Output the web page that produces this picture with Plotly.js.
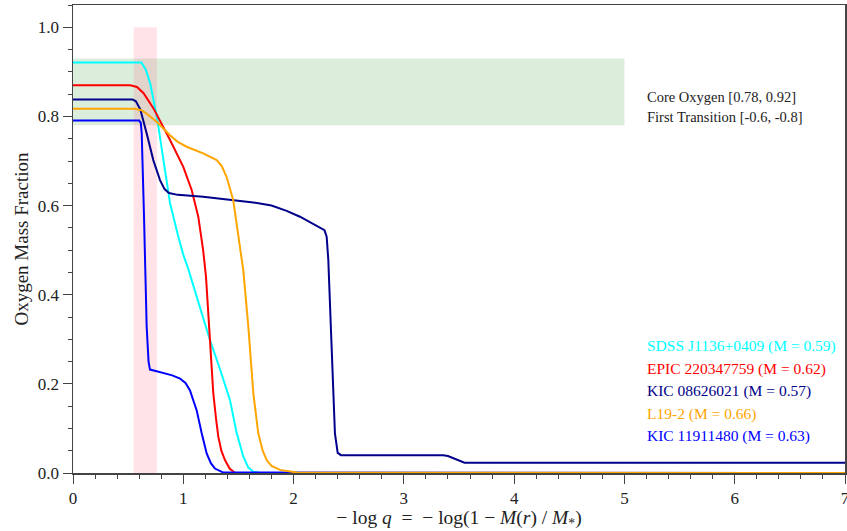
<!DOCTYPE html>
<html>
<head>
<meta charset="utf-8">
<script src="https://cdn.plot.ly/plotly-3.0.1.min.js"></script>
<style>html,body{margin:0;padding:0;background:#fff;}#chart{width:847px;height:531px;}</style>
</head>
<body>
<div id="chart"></div>
<script>
// Series data (x = -log q, y = oxygen mass fraction)
const sdssX = [0, 0.62, 0.66, 0.70, 0.76, 0.82, 0.88, 0.955, 1.0, 1.045, 1.15, 1.242, 1.33, 1.423, 1.484, 1.544, 1.59, 1.635, 1.70, 7];
const sdssY = [0.921, 0.921, 0.905, 0.874, 0.80, 0.70, 0.605, 0.53, 0.49, 0.458, 0.375, 0.298, 0.235, 0.164, 0.09, 0.037, 0.012, 0.003, 0, 0];

const epicX = [0, 0.52, 0.58, 0.64, 0.73, 0.80, 0.88, 1.0, 1.076, 1.136, 1.18, 1.206, 1.225, 1.242, 1.272, 1.30, 1.318, 1.345, 1.378, 1.42, 1.47, 7];
const epicY = [0.870, 0.870, 0.866, 0.852, 0.818, 0.785, 0.747, 0.687, 0.635, 0.575, 0.50, 0.44, 0.37, 0.29, 0.179, 0.115, 0.081, 0.05, 0.029, 0.01, 0, 0];

const kic086X = [0, 0.54, 0.57, 0.61, 0.668, 0.728, 0.789, 0.83, 0.87, 0.95, 1.18, 1.42, 1.635, 1.80, 1.937, 2.058, 2.15, 2.24, 2.28, 2.30, 2.315, 2.345, 2.375, 2.40, 2.43, 3.0, 3.357, 3.40, 3.45, 3.50, 3.55, 7];
const kic086Y = [0.838, 0.838, 0.834, 0.816, 0.762, 0.702, 0.657, 0.637, 0.628, 0.624, 0.620, 0.614, 0.607, 0.600, 0.588, 0.575, 0.563, 0.552, 0.545, 0.53, 0.478, 0.283, 0.089, 0.045, 0.040, 0.040, 0.040, 0.038, 0.033, 0.027, 0.023, 0.023];

const l19X = [0, 0.56, 0.62, 0.668, 0.759, 0.879, 0.95, 1.03, 1.18, 1.303, 1.35, 1.393, 1.453, 1.499, 1.544, 1.59, 1.635, 1.68, 1.72, 1.756, 1.80, 1.877, 2.03, 7];
const l19Y = [0.817, 0.817, 0.814, 0.806, 0.788, 0.758, 0.743, 0.732, 0.717, 0.702, 0.688, 0.664, 0.612, 0.537, 0.455, 0.328, 0.179, 0.089, 0.05, 0.029, 0.016, 0.007, 0.001, 0];

const kic119X = [0, 0.60, 0.615, 0.623, 0.644, 0.653, 0.668, 0.685, 0.698, 0.75, 0.819, 0.90, 0.97, 1.02, 1.06, 1.09, 1.121, 1.167, 1.212, 1.25, 1.287, 1.363, 7];
const kic119Y = [0.791, 0.791, 0.785, 0.762, 0.575, 0.455, 0.328, 0.25, 0.232, 0.229, 0.224, 0.219, 0.212, 0.202, 0.186, 0.165, 0.141, 0.089, 0.044, 0.022, 0.01, 0.001, 0];

// Labels
const seriesNames = [
  "SDSS J1136+0409 (M = 0.59)",
  "EPIC 220347759 (M = 0.62)",
  "KIC 08626021 (M = 0.57)",
  "L19-2 (M = 0.66)",
  "KIC 11911480 (M = 0.63)"
];
const seriesColors = ["#00FFFF", "#FF0000", "#00008B", "#FFA500", "#0000FF"];
const labelY = [0.285, 0.2325, 0.184, 0.132, 0.084];
const noteTexts = ["Core Oxygen [0.78, 0.92]", "First Transition [-0.6, -0.8]"];
const noteY = [0.843, 0.798];
const xTickVals = [0, 1, 2, 3, 4, 5, 6, 7];
const xTickText = ["0", "1", "2", "3", "4", "5", "6", "7"];
const yTickVals = [0, 0.2, 0.4, 0.6, 0.8, 1.0];
const yTickText = ["0.0", "0.2", "0.4", "0.6", "0.8", "1.0"];

// Highlighted bands
const coreBandX = [0, 5];
const coreBandY = [0.78, 0.93];
const transBandX = [0.55, 0.76];
const transBandY = [0, 1.0];

const xs = [sdssX, epicX, kic086X, l19X, kic119X];
const ys = [sdssY, epicY, kic086Y, l19Y, kic119Y];
const drawOrder = [0, 1, 2, 4, 3];

const font = "'Liberation Serif', 'Times New Roman', serif";

const traces = drawOrder.map(i => ({
  x: xs[i], y: ys[i], type: "scatter", mode: "lines",
  name: seriesNames[i], line: {color: seriesColors[i], width: 2}, showlegend: false
}));

const annotations = seriesNames.map((t, i) => ({
  x: 5.19, y: labelY[i], xref: "x", yref: "y", text: t, showarrow: false,
  xanchor: "left", yanchor: "middle", font: {family: font, size: 15.5, color: seriesColors[i]}
})).concat(noteTexts.map((t, i) => ({
  x: 5.19, y: noteY[i], xref: "x", yref: "y", text: t, showarrow: false,
  xanchor: "left", yanchor: "middle", font: {family: font, size: 14.5, color: "#222"}
})));

const shapes = [
  {type: "rect", xref: "x", yref: "y", x0: coreBandX[0], x1: coreBandX[1], y0: coreBandY[0], y1: coreBandY[1],
   fillcolor: "rgba(0,128,0,0.14)", line: {width: 0}, layer: "below"},
  {type: "rect", xref: "x", yref: "y", x0: transBandX[0], x1: transBandX[1], y0: transBandY[0], y1: transBandY[1],
   fillcolor: "rgba(255,105,135,0.19)", line: {width: 0}, layer: "below"}
];

const layout = {
  width: 847, height: 531,
  margin: {l: 73, r: 2, t: 5, b: 58},
  paper_bgcolor: "#fff", plot_bgcolor: "#fff",
  font: {family: font, size: 16, color: "#222"},
  showlegend: false,
  xaxis: {
    range: [0, 7], tickvals: xTickVals, ticktext: xTickText,
    ticks: "outside", ticklen: 9, tickwidth: 1, tickcolor: "#444",
    minor: {dtick: 0.2, ticks: "outside", ticklen: 4, tickcolor: "#444", showgrid: false},
    showgrid: false, zeroline: false, showline: true, linecolor: "#444", linewidth: 1.5, mirror: true,
    ticklabeloverflow: "allow",
    tickfont: {family: font, size: 17, color: "#222"},
    title: {text: "− log <i>q</i>  =  − log(1 − <i>M</i>(<i>r</i>) / <i>M</i><sub>*</sub>)", font: {family: font, size: 19.5, color: "#222"}, standoff: 8}
  },
  yaxis: {
    range: [0, 1.05], tickvals: yTickVals, ticktext: yTickText,
    ticks: "outside", ticklen: 9, tickwidth: 1, tickcolor: "#444",
    minor: {dtick: 0.05, ticks: "outside", ticklen: 4, tickcolor: "#444", showgrid: false},
    showgrid: false, zeroline: false, showline: true, linecolor: "#444", linewidth: 1.5, mirror: true,
    tickfont: {family: font, size: 17, color: "#222"},
    title: {text: "Oxygen Mass Fraction", font: {family: font, size: 19, color: "#222"}, standoff: 4}
  },
  shapes: shapes,
  annotations: annotations
};

Plotly.newPlot("chart", traces, layout, {displayModeBar: false, staticPlot: true});
</script>
</body>
</html>
